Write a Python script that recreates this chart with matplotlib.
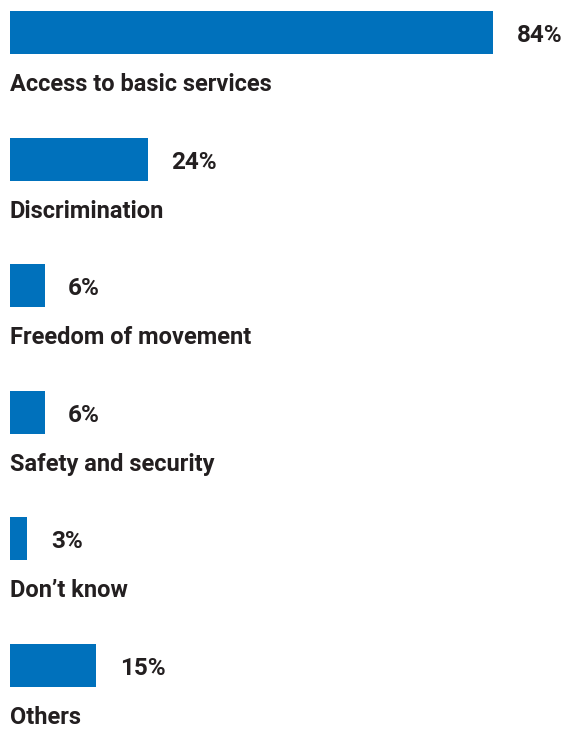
import matplotlib.pyplot as plt

# data
categories = ["Access to basic services", "Discrimination", "Freedom of movement",
              "Safety and security", "Don\u2019t know", "Others"]
values = [84, 24, 6, 6, 3, 15]

blue = "#0071bc"
dark = "#231f20"

plt.rcParams['font.family'] = ['Roboto', 'DejaVu Sans']

fig = plt.figure(figsize=(5.68, 7.31), dpi=100)
ax = fig.add_axes([0, 0, 1, 1])

rows = list(range(len(values)))
ax.barh(rows, values, height=0.34, color=blue, left=0)

for i, (cat, v) in enumerate(zip(categories, values)):
    ax.annotate(f"{v}%", xy=(v, i), xytext=(17, -2), textcoords="offset points",
                va="center", ha="left", fontsize=17.5, fontweight="bold", color=dark)
    ax.text(0, i + 0.41, cat, va="center", ha="left", fontsize=17,
            fontweight="bold", color=dark)

# 0% at ~10px, 84% at ~493px
ax.set_xlim(-1.739, 97.04)
ax.set_ylim(5.52, -0.26)
ax.axis("off")

fig.savefig("out.png", dpi=100)
